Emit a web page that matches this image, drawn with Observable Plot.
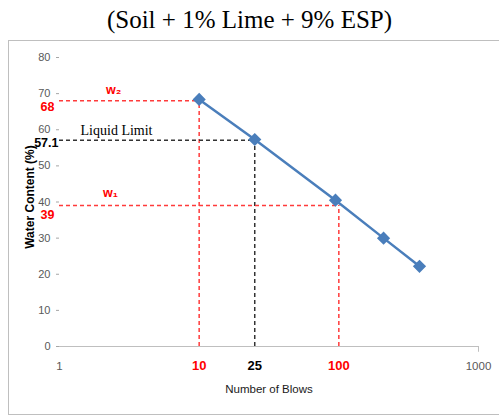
<!DOCTYPE html>
<html><head><meta charset="utf-8">
<script src="https://cdn.jsdelivr.net/npm/d3@7"></script>
<script src="https://cdn.jsdelivr.net/npm/@observablehq/plot@0.6"></script>
<style>
body{margin:0;background:#fff;width:499px;height:415px;overflow:hidden;position:relative;}
#title{position:absolute;left:0;top:0;width:499px;height:40px;text-align:center;font:25px "Liberation Serif",serif;line-height:40px;color:#000}
#box{position:absolute;left:8px;top:40px;width:500px;height:375px;border:1px solid #bfbfbf;box-sizing:border-box}
#chart{position:absolute;left:9px;top:41px}
</style></head><body>
<div id="title">(Soil + 1% Lime + 9% ESP)</div>
<div id="box"></div>
<div id="chart"></div>
<script>
// Flow curve data
const blows = [10, 25, 94.6, 209, 378];
const water = [68.4, 57.3, 40.5, 30, 22.2];
// Axis ticks
const yTicks = [0, 10, 20, 30, 40, 50, 60, 70, 80];
const plainXTicks = [1, 1000];
// Key readings (w2, liquid limit, w1)
const keyBlows = [10, 25, 100];
const keyWater = [68, 57.1, 39];
const keyBlowLabels = ["10", "25", "100"];
const keyWaterLabels = ["68", "57.1", "39"];
// Annotation texts
const annoText = ["w\u2082", "Liquid Limit", "w\u2081"];
const annoX = [2.44, 2.56, 2.32];
const annoY = [70.9, 59.8, 42.6];

const RED = "#ff3b3b", TXTRED = "#ff0000", BLUE = "#4a7ebb", GRAY = "#595959";
const sans = "'Liberation Sans', Arial, sans-serif";
const keyStroke = [RED, "#333333", RED];
const keyText = [TXTRED, "#000000", TXTRED];

const marks = [
  Plot.ruleY([0], {x1: 1, x2: 1000, stroke: "#bfbfbf", strokeWidth: 1}),
  Plot.ruleX([1000], {y1: 0, y2: -1.6, stroke: "#bfbfbf"}),
  Plot.axisY({ticks: yTicks, tickSize: 3, tickPadding: 6, stroke: "#a6a6a6", fill: GRAY, fontSize: 11, fontFamily: sans, label: null}),
  Plot.text(plainXTicks, {x: d => d, text: d => String(d), frameAnchor: "bottom", lineAnchor: "middle", dy: 20, fill: GRAY, fontSize: 11.5, fontFamily: sans})
];
keyBlows.forEach((b, i) => {
  marks.push(Plot.ruleY([keyWater[i]], {x1: 1, x2: b, stroke: keyStroke[i], strokeWidth: 1.5, strokeDasharray: "4,3"}));
  marks.push(Plot.ruleX([b], {y1: 0, y2: keyWater[i], stroke: keyStroke[i], strokeWidth: 1.5, strokeDasharray: "4,3"}));
  marks.push(Plot.text([keyBlowLabels[i]], {x: [b], text: d => d, frameAnchor: "bottom", lineAnchor: "middle", dy: 19, fill: keyText[i], fontSize: 13, fontWeight: "bold", fontFamily: sans}));
});
const dyVal = [6, 3, 9];
const dxVal = [-5, -1, -5];
keyWater.forEach((w, i) => {
  marks.push(Plot.text([keyWaterLabels[i]], {y: [w], text: d => d, frameAnchor: "left", textAnchor: "end", lineAnchor: "middle", dx: dxVal[i], dy: dyVal[i], fill: keyText[i], fontSize: 12.5, fontWeight: "bold", fontFamily: sans}));
});
marks.push(
  Plot.text([0, 2], {x: i => annoX[i], y: i => annoY[i], text: i => annoText[i], fill: TXTRED, fontSize: 12.5, fontWeight: "bold", fontFamily: sans}),
  Plot.text([1], {x: i => annoX[i], y: i => annoY[i], text: i => annoText[i], fill: "#000", fontSize: 14, fontFamily: "'Liberation Serif', serif"}),
  Plot.line(blows.map((b, i) => ({b, w: water[i]})), {x: "b", y: "w", stroke: BLUE, strokeWidth: 2.5}),
  Plot.dot(blows.map((b, i) => ({b, w: water[i]})), {x: "b", y: "w", symbol: "diamond2", r: 5, fill: BLUE, stroke: BLUE}),
  Plot.text(["Number of Blows"], {frameAnchor: "bottom", lineAnchor: "middle", dy: 43, fill: "#1a1a1a", fontSize: 11.5, fontFamily: sans}),
  Plot.text(["Water Content (%)"], {frameAnchor: "left", textAnchor: "middle", lineAnchor: "middle", dx: -29, dy: -5, rotate: -90, fill: "#000", fontSize: 12, fontWeight: "bold", fontFamily: sans})
);

const chart = Plot.plot({
  width: 486, height: 373,
  marginLeft: 50, marginRight: 17, marginTop: 16, marginBottom: 68,
  style: {background: "transparent", overflow: "visible"},
  x: {type: "log", domain: [1, 1000], axis: null},
  y: {domain: [0, 80], axis: null},
  marks
});
document.getElementById("chart").appendChild(chart);
</script>
</body></html>
